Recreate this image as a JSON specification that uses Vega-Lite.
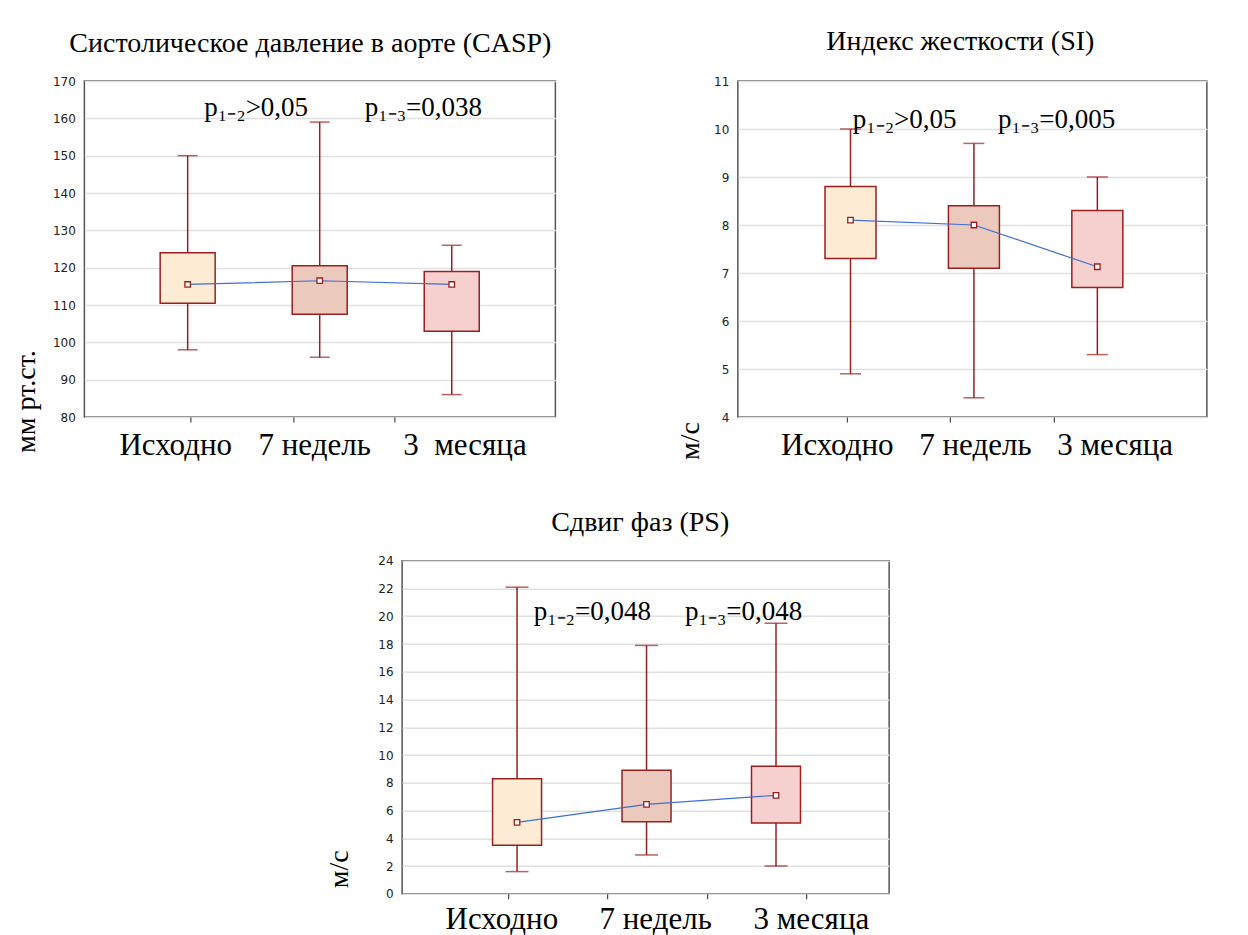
{
  "$schema": "https://vega.github.io/schema/vega-lite/v6.json",
  "background": "white",
  "padding": {"left": 12, "top": 27, "right": 0, "bottom": 0},
  "config": {
    "view": {"stroke": "#555555", "strokeWidth": 1.5},
    "font": "Liberation Serif",
    "title": {"font": "Liberation Serif", "fontSize": 28, "fontWeight": "normal", "color": "#000000", "baseline": "alphabetic", "anchor": "middle"},
    "axisY": {"grid": true, "gridColor": "#e0e0e0", "gridWidth": 1.5, "domain": false, "ticks": false, "tickCount": 50, "format": "d", "labelFont": "DejaVu Sans", "labelFontSize": 12, "labelColor": "#222222", "labelPadding": 9, "labelOverlap": false, "labelBound": false, "labelFlush": false, "titleFont": "Liberation Serif", "titleFontSize": 28, "titleFontWeight": "normal", "titleColor": "#000000", "titleAngle": 270, "titleAlign": "left", "titleBaseline": "alphabetic"},
    "axisX": {"grid": false, "domain": false, "tickSize": 5, "tickColor": "#444444", "tickWidth": 1.2, "tickCount": 50, "labelFont": "Liberation Serif", "labelFontSize": 31, "labelColor": "#000000", "labelPadding": 8, "labelOverlap": false, "labelFlush": false, "labelBound": false, "labelBaseline": "top", "title": null}
  },
  "spacing": 46.8,
  "center": true,
  "vconcat": [
    {
      "spacing": 182.5,
      "bounds": "flush",
      "hconcat": [
        {
          "width": 471,
          "height": 336,
          "title": {"text": "Систолическое давление в аорте (CASP)", "dx": -9.5, "offset": 17},
          "data": {"values": [
            {"g": "Исходно", "pos": 1, "lo": 98, "q1": 110.5, "med": 115.5, "q3": 124, "hi": 150},
            {"g": "7 недель", "pos": 2, "lo": 96, "q1": 107.5, "med": 116.5, "q3": 120.5, "hi": 159},
            {"g": "3 месяца", "pos": 3, "lo": 86, "q1": 103, "med": 115.5, "q3": 119, "hi": 126}
          ]},
          "layer": [
            {
              "mark": {"type": "rule", "color": "#9c1f1f", "strokeWidth": 1.5},
              "encoding": {
                "x": {"field": "pos", "type": "quantitative", "scale": {"domain": [0.2556, 3.747], "nice": false, "zero": false},
                  "axis": {"values": [1.023, 1.799, 2.567, 0.906, 1.958, 3.096],
                    "labelExpr": "datum.value == 0.906 ? 'Исходно' : datum.value == 1.958 ? '7 недель' : datum.value == 3.096 ? '3 \u00a0месяца' : ''",
                    "tickOpacity": {"condition": {"test": "datum.value == 0.906 || datum.value == 1.958 || datum.value == 3.096", "value": 0}, "value": 1}}},
                "y": {"field": "lo", "type": "quantitative", "scale": {"domain": [80, 170], "nice": false, "zero": false},
                  "axis": {"values": [80, 90, 100, 110, 120, 130, 140, 150, 160, 170], "title": "мм рт.ст.", "titleX": -49.5, "titleY": 371.5}},
                "y2": {"field": "hi"}
              }
            },
            {
              "mark": {"type": "tick", "orient": "horizontal", "color": "#9c1f1f", "thickness": 1.5, "size": 20},
              "encoding": {"x": {"field": "pos", "type": "quantitative"}, "y": {"field": "lo", "type": "quantitative"}}
            },
            {
              "mark": {"type": "tick", "orient": "horizontal", "color": "#9c1f1f", "thickness": 1.5, "size": 20},
              "encoding": {"x": {"field": "pos", "type": "quantitative"}, "y": {"field": "hi", "type": "quantitative"}}
            },
            {
              "mark": {"type": "bar", "width": 55, "stroke": "#9c1f1f", "strokeWidth": 1.5},
              "encoding": {
                "x": {"field": "pos", "type": "quantitative"},
                "y": {"field": "q1", "type": "quantitative"},
                "y2": {"field": "q3"},
                "fill": {"field": "g", "type": "nominal", "scale": {"domain": ["Исходно", "7 недель", "3 месяца"], "range": ["#fdebd4", "#ebcabd", "#f6cfcf"]}, "legend": null}
              }
            },
            {
              "mark": {"type": "line", "color": "#3d6fd6", "strokeWidth": 1.2},
              "encoding": {"x": {"field": "pos", "type": "quantitative"}, "y": {"field": "med", "type": "quantitative"}}
            },
            {
              "mark": {"type": "point", "shape": "square", "filled": true, "fill": "#ffffff", "stroke": "#9c1f1f", "strokeWidth": 1.3, "size": 30, "opacity": 1},
              "encoding": {"x": {"field": "pos", "type": "quantitative"}, "y": {"field": "med", "type": "quantitative"}}
            },
            {
              "data": {"values": [
                {"ax": 1.126, "ay": 160.6, "t": "p₁₋₂>0,05"},
                {"ax": 2.341, "ay": 160.6, "t": "p₁₋₃=0,038"}
              ]},
              "mark": {"type": "text", "align": "left", "baseline": "alphabetic", "font": "Liberation Serif", "fontSize": 27, "color": "#000000"},
              "encoding": {"x": {"field": "ax", "type": "quantitative"}, "y": {"field": "ay", "type": "quantitative"}, "text": {"field": "t"}}
            }
          ]
        },
        {
          "width": 469,
          "height": 336,
          "title": {"text": "Индекс жесткости (SI)", "dx": -12, "offset": 19},
          "data": {"values": [
            {"g": "Исходно", "pos": 1, "lo": 4.9, "q1": 7.3, "med": 8.1, "q3": 8.8, "hi": 10.0},
            {"g": "7 недель", "pos": 2, "lo": 4.4, "q1": 7.1, "med": 8.0, "q3": 8.4, "hi": 9.7},
            {"g": "3 месяца", "pos": 3, "lo": 5.3, "q1": 6.7, "med": 7.13, "q3": 8.3, "hi": 9.0}
          ]},
          "layer": [
            {
              "mark": {"type": "rule", "color": "#9c1f1f", "strokeWidth": 1.5},
              "encoding": {
                "x": {"field": "pos", "type": "quantitative", "scale": {"domain": [0.128, 3.847], "nice": false, "zero": false},
                  "axis": {"values": [0.971, 1.807, 2.649, 0.889, 2.008, 3.14],
                    "labelExpr": "datum.value == 0.889 ? 'Исходно' : datum.value == 2.008 ? '7 недель' : datum.value == 3.14 ? '3 месяца' : ''",
                    "tickOpacity": {"condition": {"test": "datum.value == 0.889 || datum.value == 2.008 || datum.value == 3.14", "value": 0}, "value": 1}}},
                "y": {"field": "lo", "type": "quantitative", "scale": {"domain": [4, 11], "nice": false, "zero": false},
                  "axis": {"values": [4, 5, 6, 7, 8, 9, 10, 11], "title": "м/с", "titleX": -39, "titleY": 378.5}},
                "y2": {"field": "hi"}
              }
            },
            {
              "mark": {"type": "tick", "orient": "horizontal", "color": "#9c1f1f", "thickness": 1.5, "size": 21},
              "encoding": {"x": {"field": "pos", "type": "quantitative"}, "y": {"field": "lo", "type": "quantitative"}}
            },
            {
              "mark": {"type": "tick", "orient": "horizontal", "color": "#9c1f1f", "thickness": 1.5, "size": 21},
              "encoding": {"x": {"field": "pos", "type": "quantitative"}, "y": {"field": "hi", "type": "quantitative"}}
            },
            {
              "mark": {"type": "bar", "width": 51, "stroke": "#9c1f1f", "strokeWidth": 1.5},
              "encoding": {
                "x": {"field": "pos", "type": "quantitative"},
                "y": {"field": "q1", "type": "quantitative"},
                "y2": {"field": "q3"},
                "fill": {"field": "g", "type": "nominal", "scale": {"domain": ["Исходно", "7 недель", "3 месяца"], "range": ["#fdebd4", "#ebcabd", "#f6cfcf"]}, "legend": null}
              }
            },
            {
              "mark": {"type": "line", "color": "#3d6fd6", "strokeWidth": 1.2},
              "encoding": {"x": {"field": "pos", "type": "quantitative"}, "y": {"field": "med", "type": "quantitative"}}
            },
            {
              "mark": {"type": "point", "shape": "square", "filled": true, "fill": "#ffffff", "stroke": "#9c1f1f", "strokeWidth": 1.3, "size": 30, "opacity": 1},
              "encoding": {"x": {"field": "pos", "type": "quantitative"}, "y": {"field": "med", "type": "quantitative"}}
            },
            {
              "data": {"values": [
                {"ax": 1.018, "ay": 10.02, "t": "p₁₋₂>0,05"},
                {"ax": 2.195, "ay": 10.02, "t": "p₁₋₃=0,005"}
              ]},
              "mark": {"type": "text", "align": "left", "baseline": "alphabetic", "font": "Liberation Serif", "fontSize": 27, "color": "#000000"},
              "encoding": {"x": {"field": "ax", "type": "quantitative"}, "y": {"field": "ay", "type": "quantitative"}, "text": {"field": "t"}}
            }
          ]
        }
      ]
    },
    {
      "width": 487,
      "height": 333,
      "title": {"text": "Сдвиг фаз (PS)", "dx": -5.4, "offset": 18},
      "data": {"values": [
        {"g": "Исходно", "pos": 1, "lo": 1.6, "q1": 3.5, "med": 5.15, "q3": 8.3, "hi": 22.1},
        {"g": "7 недель", "pos": 2, "lo": 2.8, "q1": 5.2, "med": 6.45, "q3": 8.9, "hi": 17.9},
        {"g": "3 месяца", "pos": 3, "lo": 2.0, "q1": 5.1, "med": 7.1, "q3": 9.2, "hi": 19.5}
      ]},
      "layer": [
        {
          "mark": {"type": "rule", "color": "#9c1f1f", "strokeWidth": 1.5},
          "encoding": {
            "x": {"field": "pos", "type": "quantitative", "scale": {"domain": [0.151, 3.835], "nice": false, "zero": false},
              "axis": {"values": [0.934, 1.696, 2.466, 3.235, 0.879, 2.067, 3.269], "labelPadding": 6,
                "labelExpr": "datum.value == 0.879 ? 'Исходно' : datum.value == 2.067 ? '7 недель' : datum.value == 3.269 ? '3 месяца' : ''",
                "tickOpacity": {"condition": {"test": "datum.value == 0.879 || datum.value == 2.067 || datum.value == 3.269", "value": 0}, "value": 1}}},
            "y": {"field": "lo", "type": "quantitative", "scale": {"domain": [0, 24], "nice": false, "zero": false},
              "axis": {"values": [0, 2, 4, 6, 8, 10, 12, 14, 16, 18, 20, 22, 24], "title": "м/с", "titleX": -55, "titleY": 327}},
            "y2": {"field": "hi"}
          }
        },
        {
          "mark": {"type": "tick", "orient": "horizontal", "color": "#9c1f1f", "thickness": 1.5, "size": 23},
          "encoding": {"x": {"field": "pos", "type": "quantitative"}, "y": {"field": "lo", "type": "quantitative"}}
        },
        {
          "mark": {"type": "tick", "orient": "horizontal", "color": "#9c1f1f", "thickness": 1.5, "size": 23},
          "encoding": {"x": {"field": "pos", "type": "quantitative"}, "y": {"field": "hi", "type": "quantitative"}}
        },
        {
          "mark": {"type": "bar", "width": 49, "stroke": "#9c1f1f", "strokeWidth": 1.5},
          "encoding": {
            "x": {"field": "pos", "type": "quantitative"},
            "y": {"field": "q1", "type": "quantitative"},
            "y2": {"field": "q3"},
            "fill": {"field": "g", "type": "nominal", "scale": {"domain": ["Исходно", "7 недель", "3 месяца"], "range": ["#fdebd4", "#ebcabd", "#f6cfcf"]}, "legend": null}
          }
        },
        {
          "mark": {"type": "line", "color": "#3d6fd6", "strokeWidth": 1.2},
          "encoding": {"x": {"field": "pos", "type": "quantitative"}, "y": {"field": "med", "type": "quantitative"}}
        },
        {
          "mark": {"type": "point", "shape": "square", "filled": true, "fill": "#ffffff", "stroke": "#9c1f1f", "strokeWidth": 1.3, "size": 30, "opacity": 1},
          "encoding": {"x": {"field": "pos", "type": "quantitative"}, "y": {"field": "med", "type": "quantitative"}}
        },
        {
          "data": {"values": [
            {"ax": 1.128, "ay": 19.7, "t": "p₁₋₂=0,048"},
            {"ax": 2.297, "ay": 19.7, "t": "p₁₋₃=0,048"}
          ]},
          "mark": {"type": "text", "align": "left", "baseline": "alphabetic", "font": "Liberation Serif", "fontSize": 27, "color": "#000000"},
          "encoding": {"x": {"field": "ax", "type": "quantitative"}, "y": {"field": "ay", "type": "quantitative"}, "text": {"field": "t"}}
        }
      ]
    }
  ]
}
